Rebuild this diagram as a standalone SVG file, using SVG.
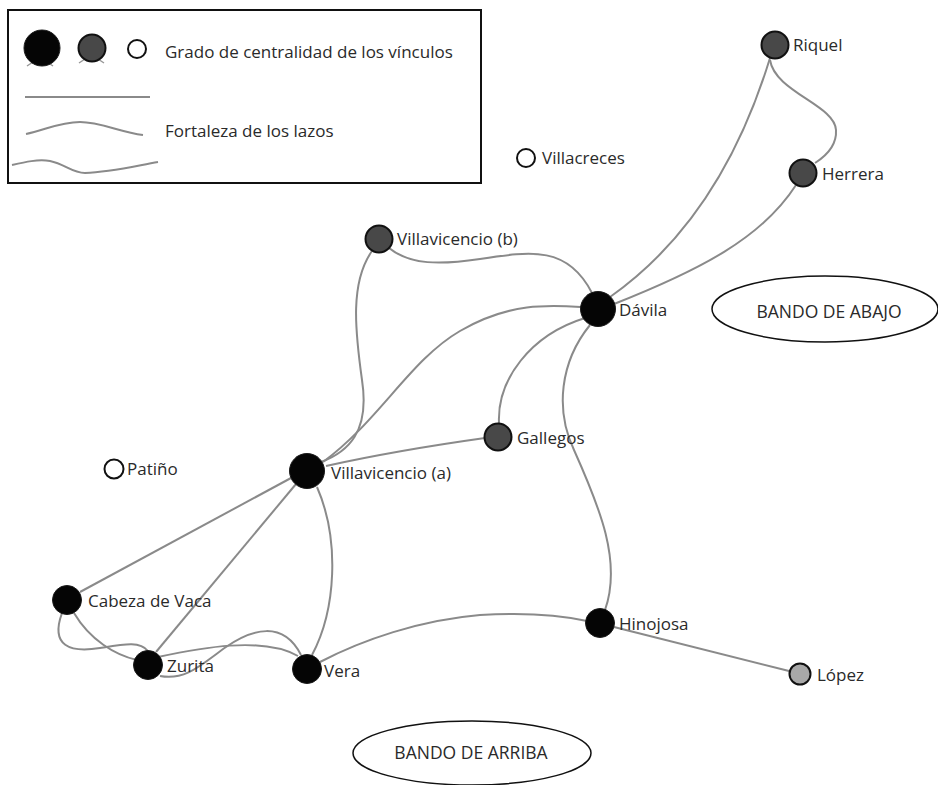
<svg xmlns="http://www.w3.org/2000/svg" width="938" height="785" viewBox="0 0 938 785">
<style>
.e{fill:none;stroke:#8a8a8a;stroke-width:2}
.lb{font-family:"Open Sans","Liberation Sans",sans-serif;font-size:17px;fill:#2a2a2a}
.lg{font-family:"Open Sans","Liberation Sans",sans-serif;font-size:17px;fill:#2a2a2a}
.bd{font-family:"Open Sans","Liberation Sans",sans-serif;font-size:17.5px;fill:#2a2a2a}
.bk{fill:#050505;stroke:#1a1a1a;stroke-width:1}
.dg{fill:#484848;stroke:#111;stroke-width:2}
.wh{fill:#fff;stroke:#111;stroke-width:2}
.lt{fill:#a8a8a8;stroke:#111;stroke-width:2}
.ov{fill:#fff;stroke:#111;stroke-width:1.5}
</style>
<rect width="938" height="785" fill="#fff"/>
<g id="legend">
<rect x="8" y="10" width="473" height="173" fill="#fff" stroke="#111" stroke-width="2"/>
<path d="M27,66 l6,-4 M53,66 l-6,-4 M79,63 l6,-4 M104,63 l-6,-4" stroke="#999" stroke-width="1.5" fill="none"/>
<circle cx="42" cy="48" r="18" class="bk"/>
<circle cx="92" cy="48" r="13.5" class="dg"/>
<circle cx="137" cy="49" r="9" class="wh"/>
<text x="165" y="58" class="lg">Grado de centralidad de los vínculos</text>
<line x1="25" y1="97" x2="150" y2="97" class="e"/>
<path d="M26,134 C45,130 60,122 80,122 C100,122 120,132 143,135" class="e"/>
<text x="165" y="137" class="lg">Fortaleza de los lazos</text>
<path d="M12,165 C25,162 38,159 50,161 C65,164 72,173 85,173 C110,172 135,166 158,162" class="e"/>
</g>
<g id="connectors">
<path class="e" d="M770,58 C748,130 705,230 610,297"/>
<path class="e" d="M770,60 C775,92 835,105 836,130 C837,146 826,156 815,163"/>
<path class="e" d="M796,185 C762,238 700,270 614,304"/>
<path class="e" d="M389,248 C410,265 440,265 480,259 C532,251 568,246 592,293"/>
<path class="e" d="M372,251 C350,282 355,330 362,380 C370,432 348,452 321,462"/>
<path class="e" d="M323,462 C380,420 410,360 460,331 C510,302 550,305 582,307"/>
<path class="e" d="M326,466 C380,454 435,445 485,438"/>
<path class="e" d="M499,423 C497,380 530,335 585,318"/>
<path class="e" d="M590,325 C560,362 555,410 574,450 C600,508 622,562 605,610"/>
<path class="e" d="M291,478 L80,592"/>
<path class="e" d="M296,484 L156,652"/>
<path class="e" d="M317,487 C340,540 336,610 312,655"/>
<path class="e" d="M62,613 C50,646 70,653 100,648 C125,644 140,641 148,651"/>
<path class="e" d="M74,613 C90,640 115,655 137,660"/>
<path class="e" d="M158,657 C200,648 262,636 298,656"/>
<path class="e" d="M160,676 C186,681 202,664 226,647 C252,629 283,620 301,655"/>
<path class="e" d="M320,662 C362,640 420,620 480,615 C530,612 560,615 587,621"/>
<path class="e" d="M614,627 L789,671"/>
</g>
<g id="riquel"><circle cx="775" cy="45" r="13.5" class="dg"/><text x="793" y="51" class="lb">Riquel</text></g>
<g id="herrera"><circle cx="803" cy="173" r="13.5" class="dg"/><text x="822" y="180" class="lb">Herrera</text></g>
<g id="villacreces"><circle cx="526" cy="158" r="9" class="wh"/><text x="542" y="164" class="lb">Villacreces</text></g>
<g id="villavicencio-b"><circle cx="379" cy="239" r="13.5" class="dg"/><text x="397" y="245" class="lb">Villavicencio (b)</text></g>
<g id="davila"><circle cx="598" cy="309" r="17.5" class="bk"/><text x="619" y="316" class="lb">Dávila</text></g>
<g id="gallegos"><circle cx="498" cy="437" r="13.5" class="dg"/><text x="517" y="444" class="lb">Gallegos</text></g>
<g id="villavicencio-a"><circle cx="307" cy="471" r="17.5" class="bk"/><text x="331" y="479" class="lb">Villavicencio (a)</text></g>
<g id="patino"><circle cx="114" cy="469" r="9.5" class="wh"/><text x="127" y="475" class="lb">Patiño</text></g>
<g id="cabeza-de-vaca"><circle cx="67" cy="600" r="14.5" class="bk"/><text x="88" y="607" class="lb">Cabeza de Vaca</text></g>
<g id="zurita"><circle cx="148" cy="665" r="14.5" class="bk"/><text x="167" y="672" class="lb">Zurita</text></g>
<g id="vera"><circle cx="307" cy="669" r="14.5" class="bk"/><text x="324" y="677" class="lb">Vera</text></g>
<g id="hinojosa"><circle cx="600" cy="623" r="14.5" class="bk"/><text x="619" y="630" class="lb">Hinojosa</text></g>
<g id="lopez"><circle cx="800" cy="674" r="10.5" class="lt"/><text x="817" y="681" class="lb">López</text></g>
<g id="bando-abajo"><ellipse cx="825" cy="309" rx="113" ry="33" class="ov"/><text x="829" y="318" text-anchor="middle" class="bd">BANDO DE ABAJO</text></g>
<g id="bando-arriba"><ellipse cx="472" cy="753" rx="119" ry="32" class="ov"/><text x="471" y="759" text-anchor="middle" class="bd">BANDO DE ARRIBA</text></g>
</svg>
